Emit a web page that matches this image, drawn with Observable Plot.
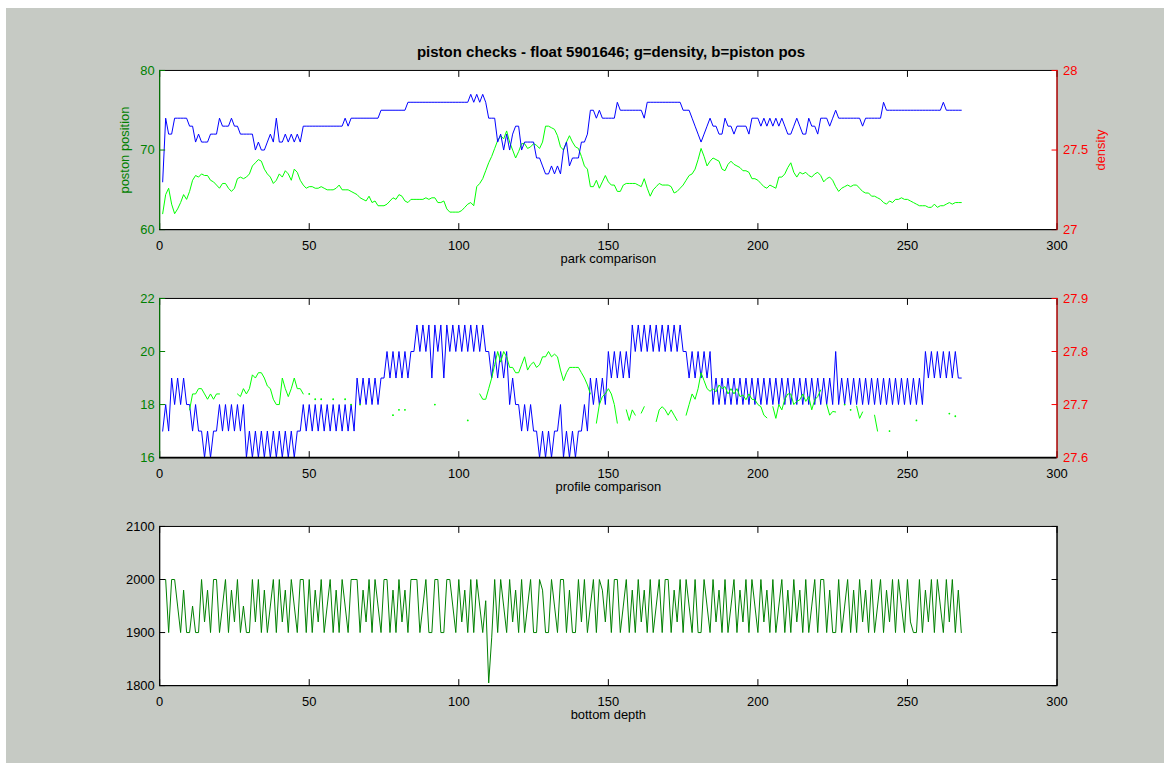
<!DOCTYPE html>
<html><head><meta charset="utf-8">
<script src="https://cdn.jsdelivr.net/npm/d3@7"></script>
<script src="https://cdn.jsdelivr.net/npm/@observablehq/plot@0.6"></script>
<style>
body{margin:0;background:#ffffff;}
#fig{position:absolute;left:6px;top:8px;width:1158px;height:755px;background:#c6cac4;overflow:hidden;}
#title{position:absolute;left:154px;width:902px;top:35px;text-align:center;font-weight:bold;font-size:15px;font-family:"Liberation Sans",Arial,sans-serif;color:#000;}
.panel{position:absolute;left:-6px;}
</style></head><body><div id="fig"><div id="title">piston checks - float 5901646; g=density, b=piston pos</div></div>
<script>
// ---------- data (index 1..268) ----------
const parkPiston = [
66,74,72,72,74,74,74,74,74,73, 73,71,72,71,71,71,72,72,72,74,
73,73,73,74,73,73,72,72,72,72, 72,70,71,70,70,71,72,71,74,71,
71,72,71,72,71,72,71,73,73,73, 73,73,73,73,73,73,73,73,73,73,
73,74,73,74,74,74,74,74,74,74, 74,74,74,75,75,75,75,75,75,75,
75,75,76,76,76,76,76,76,76,76, 76,76,76,76,76,76,76,76,76,76,
76,76,76,77,76,77,76,77,76,74, 74,74,71,72,70,72,70,72,73,73,
70,71,71,71,71,69,69,68,67,67, 68,67,68,67,70,71,68,69,69,69,
71,71,72,75,75,74,75,74,74,74, 74,74,76,75,75,75,75,75,75,75,
75,74,76,76,76,76,76,76,76,76, 76,76,76,76,75,75,75,74,73,72,
71,72,73,74,73,73,72,72,74,73, 73,72,73,73,73,73,72,74,74,74,
73,74,73,74,73,74,73,74,73,72, 72,73,74,73,72,72,74,73,73,72,
74,74,74,73,74,75,74,74,74,74, 74,74,74,74,73,74,74,74,74,74,
74,76,75,75,75,75,75,75,75,75, 75,75,75,75,75,75,75,75,75,75,
75,76,75,75,75,75,75,75];
const parkDensity = [
27.10,27.22,27.26,27.16,27.10,27.13,27.17,27.22,27.19,27.24,
27.31,27.34,27.33,27.35,27.34,27.34,27.31,27.30,27.28,27.26,
27.29,27.29,27.26,27.24,27.26,27.32,27.33,27.32,27.33,27.35,
27.40,27.42,27.44,27.43,27.38,27.35,27.33,27.29,27.31,27.35,
27.33,27.37,27.35,27.31,27.38,27.36,27.31,27.28,27.26,27.27,
27.27,27.26,27.26,27.27,27.26,27.25,27.25,27.25,27.26,27.28,
27.25,27.25,27.25,27.24,27.23,27.22,27.20,27.19,27.18,27.21,
27.17,27.18,27.15,27.15,27.15,27.16,27.18,27.20,27.19,27.22,
27.21,27.18,27.17,27.19,27.19,27.19,27.19,27.19,27.20,27.19,
27.20,27.20,27.17,27.17,27.18,27.13,27.11,27.11,27.11,27.11,
27.12,27.14,27.16,27.17,27.15,27.27,27.29,27.32,27.37,27.42,
27.46,27.51,27.56,27.59,27.57,27.62,27.55,27.50,27.45,27.49,
27.54,27.54,27.51,27.52,27.54,27.53,27.51,27.55,27.65,27.65,
27.64,27.63,27.59,27.52,27.50,27.55,27.59,27.55,27.52,27.51,
27.46,27.40,27.38,27.27,27.27,27.31,27.26,27.30,27.34,27.30,
27.28,27.28,27.24,27.24,27.28,27.29,27.29,27.29,27.29,27.28,
27.27,27.32,27.26,27.21,27.25,27.27,27.29,27.28,27.28,27.28,
27.27,27.23,27.24,27.26,27.28,27.31,27.34,27.35,27.38,27.44,
27.51,27.46,27.40,27.43,27.45,27.44,27.43,27.38,27.37,27.41,
27.43,27.41,27.40,27.39,27.37,27.37,27.36,27.32,27.32,27.31,
27.29,27.27,27.26,27.28,27.27,27.26,27.33,27.33,27.35,27.39,
27.42,27.36,27.33,27.36,27.35,27.36,27.34,27.33,27.35,27.36,
27.34,27.30,27.32,27.33,27.31,27.27,27.24,27.26,27.27,27.28,
27.27,27.28,27.28,27.26,27.24,27.23,27.23,27.21,27.21,27.20,
27.19,27.17,27.16,27.18,27.17,27.19,27.19,27.20,27.19,27.19,
27.18,27.17,27.16,27.15,27.15,27.15,27.14,27.14,27.16,27.14,
27.15,27.15,27.16,27.17,27.16,27.17,27.17,27.17];
const profilePiston = [
17,18,17,19,18,19,18,19,18,18, 17,18,17,17,16,17,16,17,17,18,
17,18,17,18,17,18,17,18,16,17, 16,17,16,17,16,17,16,17,16,17,
16,17,16,17,16,17,17,18,17,18, 17,18,17,18,17,18,17,18,17,18,
17,18,17,18,17,19,18,19,18,19, 18,19,18,19,19,20,19,20,19,20,
19,20,19,20,20,21,20,21,20,21, 19,21,20,21,19,21,20,21,20,21,
20,21,20,21,20,21,20,21,20,20, 19,20,19,20,19,20,18,19,18,18,
17,18,17,18,17,17,16,17,16,17, 16,17,17,18,16,17,16,17,16,17,
17,18,17,19,18,19,18,19,18,20, 19,20,19,20,19,20,19,21,20,21,
20,21,20,21,20,21,20,21,20,21, 20,21,20,21,20,20,19,20,19,20,
19,20,19,20,18,19,18,19,18,19, 18,19,18,19,18,19,18,19,18,19,
18,19,18,19,18,19,18,19,18,19, 18,19,18,19,18,19,18,19,18,19,
18,19,18,19,18,20,18,19,18,19, 18,19,18,19,18,19,18,19,18,19,
18,19,18,19,18,19,18,19,18,19, 18,19,18,19,18,20,19,20,19,20,
19,20,19,20,19,20,19,19];
const profileDensity = [
null,null,null,null,null,null,null,null,null,27.69,
27.72,27.72,27.73,27.73,27.72,27.71,27.72,27.71,27.72,27.72,
null,null,null,null,null,27.72,27.715,27.73,27.72,27.73,
27.756,27.75,27.76,27.76,27.75,27.735,27.73,27.71,27.70,27.70,
27.75,27.73,27.715,27.73,27.75,27.73,27.73,27.72,null,27.72,
null,27.71,null,27.71,null,null,null,27.71,null,null,
null,27.71,null,27.70,null,null,27.70,null,null,null,
null,null,null,null,null,null,null,27.68,null,27.69,
null,27.69,null,null,null,null,null,null,null,null,
null,27.70,null,null,null,null,null,null,null,null,
null,null,27.67,null,null,null,27.72,27.71,27.71,27.73,
27.75,27.775,27.80,27.78,27.80,27.79,27.77,27.77,27.76,27.76,
27.775,27.79,27.765,27.775,27.78,27.77,27.775,27.79,27.79,27.80,
27.79,27.795,27.79,27.765,27.745,27.76,27.77,27.77,27.77,27.77,
27.76,27.75,27.737,27.72,null,27.665,27.70,27.715,27.72,27.73,
27.72,27.70,27.665,null,null,27.69,27.67,27.69,27.68,null,
27.684,27.696,null,null,null,27.668,27.69,27.696,27.69,27.68,
27.69,27.68,27.67,null,null,27.68,27.70,27.72,27.71,27.73,
27.76,27.745,27.73,27.725,27.73,27.724,27.737,27.73,27.734,27.72,
27.73,27.72,27.73,27.715,27.718,27.709,27.72,27.71,27.709,27.70,
27.696,27.68,27.675,null,27.696,27.674,27.70,27.69,27.71,27.72,
27.72,27.70,27.706,27.709,27.72,27.706,27.715,27.69,27.709,27.715,
27.7275,null,27.70,27.68,27.687,27.686,null,null,27.70,null,
27.69,null,27.697,27.674,27.686,null,null,null,27.68,27.65,
null,null,null,27.65,null,null,null,null,null,null,
null,null,27.67,null,null,null,null,null,null,null,
null,null,null,27.683,null,27.678,null,null];
const bottomDepth = [
2000,2000,1900,2000,2000,1950,1900,1980,1900,1900,
1950,1900,1900,2000,1920,1980,1900,2000,2000,1900,
1950,2000,1900,1980,1920,2000,1900,1950,1900,1900,
2000,1920,2000,1900,1980,1900,1950,2000,1900,2000,
1920,1980,1900,2000,1950,1900,2000,2000,1900,2000,
1900,1980,1920,2000,1900,1950,2000,1900,1980,1900,
2000,1950,1900,2000,2000,2000,1900,1980,1920,2000,
1900,2000,1950,1900,2000,2000,1900,1980,1900,2000,
1920,1980,1900,2000,2000,2000,1900,1950,2000,1900,
1900,2000,2000,1900,1900,2000,2000,1950,1900,2000,
1920,1980,1900,2000,1900,2000,1950,1900,1960,1805,
1890,2000,1900,2000,1950,1900,2000,1920,1980,1900,
2000,1900,1950,2000,1900,1900,2000,1980,1900,1900,
2000,1950,1900,2000,2000,1900,1980,1900,1900,2000,
1920,2000,1900,1950,2000,1900,2000,1980,1920,2000,
1900,2000,2000,1900,1950,2000,1900,1980,1900,2000,
1920,1980,1900,2000,1900,1950,2000,1900,2000,2000,
1900,1980,1920,2000,1900,2000,1950,1900,2000,1900,
1900,2000,1950,1900,2000,1920,1980,1900,2000,1900,
1950,2000,1900,1980,1920,2000,1900,2000,1950,1900,
2000,1920,1980,1900,2000,1900,1950,2000,1900,1980,
1900,2000,1920,1980,1900,2000,1900,1950,2000,1900,
2000,2000,1900,1980,1900,1900,2000,1900,1950,2000,
1900,1980,1900,2000,1920,1980,1900,2000,1900,1950,
2000,1900,1980,1920,2000,1900,2000,1950,1900,2000,
1920,1900,1900,2000,1900,1980,1920,2000,1900,2000,
1950,1900,2000,1920,2000,1900,1980,1900];

const xTicks = [0, 50, 100, 150, 200, 250, 300];
const parkLeftTicks = [60, 70, 80];
const parkRightLabels = ["27", "27.5", "28"];
const profileLeftTicks = [16, 18, 20, 22];
const profileRightLabels = ["27.6", "27.7", "27.8", "27.9"];
const depthTicks = [1800, 1900, 2000, 2100];

// ---------- styles ----------
const BLUE = "#0000ff", LGREEN = "#00ff00", DGREEN = "#008000", RED = "#ff0000";
const FONT = "Liberation Sans, Arial, sans-serif";
const FS = 13;
const idx = parkPiston.map((_, i) => i + 1);
const toNum = v => (v == null ? NaN : v);

// density mapped onto the left (piston) axis of each panel
const parkRows = idx.map((x, i) => ({x, p: parkPiston[i], d: 60 + (parkDensity[i] - 27) * 20}));
const profRows = idx.map((x, i) => ({x, p: profilePiston[i], d: profileDensity[i] == null ? NaN : 16 + (profileDensity[i] - 27.6) * 20}));
const isolated = profRows.filter((r, i) => !isNaN(r.d) && isNaN(toNum(profRows[i - 1]?.d)) && isNaN(toNum(profRows[i + 1]?.d)));
const depthRows = idx.map((x, i) => ({x, v: bottomDepth[i]}));

function panel({top, yDomain, leftTicks, leftColor, rightColor, rightLabels, leftLabel, rightLabel, xLabel, marks, thickBottom}) {
  const m = [
    ...marks,
    Plot.frame({stroke: "black", strokeWidth: 1}),
    Plot.axisX({anchor: "bottom", ticks: xTicks, tickSize: -6, tickPadding: 17, fontSize: FS, color: "black", label: null}),
    Plot.axisX({anchor: "top", ticks: xTicks, tickSize: -6, tickFormat: () => "", color: "black", label: null}),
    Plot.axisY({anchor: "left", ticks: leftTicks, tickSize: -6, tickPadding: 11, fontSize: FS, color: leftColor, label: null, tickFormat: d => String(d)}),
    Plot.axisY({anchor: "right", ticks: leftTicks, tickSize: -6, tickPadding: 12, fontSize: FS, color: rightColor, label: null,
      tickFormat: rightLabels ? (d => rightLabels[leftTicks.indexOf(d)]) : (() => "")}),
    Plot.ruleX([0], {stroke: leftColor}),
    Plot.ruleX([300], {stroke: rightColor}),
    Plot.ruleY([yDomain[0]], {stroke: "black", strokeWidth: thickBottom ? 2 : 1}),
    Plot.text([xLabel], {frameAnchor: "bottom", lineAnchor: "middle", textAnchor: "middle", dy: 29, fontSize: FS, fill: "black"})
  ];
  if (leftLabel) m.push(Plot.text([leftLabel], {frameAnchor: "left", textAnchor: "middle", lineAnchor: "middle", rotate: -90, dx: -35, fontSize: FS, fill: leftColor}));
  if (rightLabel) m.push(Plot.text([rightLabel], {frameAnchor: "right", textAnchor: "middle", lineAnchor: "middle", rotate: -90, dx: 44, fontSize: FS, fill: rightColor}));
  const svg = Plot.plot({
    width: 1164, height: 215,
    marginLeft: 160, marginRight: 102, marginTop: 10, marginBottom: 45,
    style: {background: "transparent", fontFamily: FONT, fontSize: FS + "px", overflow: "visible"},
    x: {domain: [0, 300], axis: null},
    y: {domain: yDomain, axis: null},
    marks: m
  });
  svg.classList.add("panel");
  svg.style.top = (top - 10 - 8) + "px";
  return svg;
}

const fig = document.getElementById("fig");

fig.appendChild(panel({
  top: 70, yDomain: [60, 80], leftTicks: parkLeftTicks, leftColor: DGREEN, rightColor: RED, rightLabels: parkRightLabels,
  leftLabel: "poston position", rightLabel: "density", xLabel: "park comparison",
  marks: [
    Plot.frame({fill: "white", stroke: null}),
    Plot.line(parkRows, {x: "x", y: "d", stroke: LGREEN, strokeWidth: 1}),
    Plot.line(parkRows, {x: "x", y: "p", stroke: BLUE, strokeWidth: 1})
  ]
}));

fig.appendChild(panel({
  top: 298, yDomain: [16, 22], leftTicks: profileLeftTicks, leftColor: DGREEN, rightColor: RED, rightLabels: profileRightLabels,
  xLabel: "profile comparison", thickBottom: true,
  marks: [
    Plot.frame({fill: "white", stroke: null}),
    Plot.line(profRows, {x: "x", y: "p", stroke: BLUE, strokeWidth: 1}),
    Plot.line(profRows, {x: "x", y: "d", stroke: LGREEN, strokeWidth: 1}),
    Plot.dot(isolated, {x: "x", y: "d", r: 0.9, fill: LGREEN, stroke: null})
  ]
}));

fig.appendChild(panel({
  top: 526, yDomain: [1800, 2100], leftTicks: depthTicks, leftColor: "black", rightColor: "black", rightLabels: null,
  xLabel: "bottom depth",
  marks: [
    Plot.frame({fill: "white", stroke: null}),
    Plot.line(depthRows, {x: "x", y: "v", stroke: DGREEN, strokeWidth: 1})
  ]
}));
</script></body></html>
